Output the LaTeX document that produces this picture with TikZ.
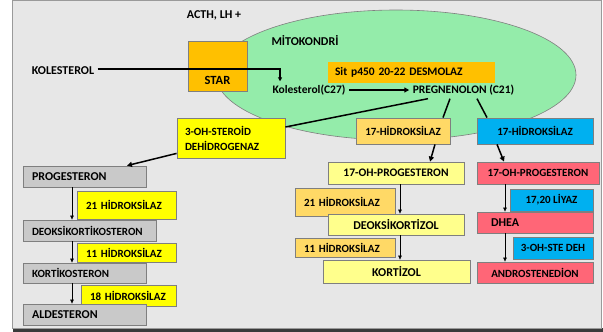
\documentclass[tikz,border=0pt]{standalone}
\usepackage{fontspec}
\setmainfont{Carlito}
\usetikzlibrary{arrows.meta}

\definecolor{panel}{HTML}{E7E7E7}
\definecolor{panelline}{HTML}{9A9A9A}
\definecolor{shadow}{HTML}{3A3A3A}
\definecolor{mito}{HTML}{94ECAA}
\definecolor{staror}{HTML}{FFC000}
\definecolor{enzyel}{HTML}{FFFF00}
\definecolor{enzor}{HTML}{FFD966}
\definecolor{enzbl}{HTML}{00B0F0}
\definecolor{pale}{HTML}{FFFF8C}
\definecolor{pink}{HTML}{FF6677}
\definecolor{stepgray}{HTML}{C9C9C9}
\definecolor{edge}{HTML}{7F7F7F}

\begin{document}
\begin{tikzpicture}[x=1pt, y=-1pt,
  bigtxt/.style={font=\fontsize{12}{13}\selectfont\bfseries},
  midtxt/.style={font=\fontsize{11.5}{13}\selectfont\bfseries},
  smalltxt/.style={font=\fontsize{11}{15}\selectfont\bfseries},
  box/.style={draw=edge, line width=0.8pt, inner sep=0pt},
  lbox/.style={box, align=left, inner xsep=#1},
  link/.style={line width=1.5pt},
  linkarr/.style={link, -{Triangle[length=5pt,width=5pt]}},
  chain/.style={line width=0.6pt, -{Triangle[length=4pt,width=3.5pt]}}]
  \useasboundingbox (0,0) rectangle (603,332);
  \fill[shadow] (13,328) rectangle (603,332);
  \draw[panelline, fill=panel, line width=0.8pt] (12,0.5) rectangle (601,328);
  \draw[edge, fill=mito, line width=0.6pt] (396,75) ellipse [x radius=180pt, y radius=65pt];

  \node[bigtxt] (acth) at (214,15) {ACTH, LH +};
  \node[bigtxt] (mitotxt) at (305,41) {MİTOKONDRİ};
  \node[bigtxt] (kol) at (63,71) {KOLESTEROL};
  \node[box, fill=staror, minimum width=59pt, minimum height=50pt] (star) at (217.5,66) {};
  \node[font=\fontsize{12.5}{13}\selectfont\bfseries] (startxt) at (217.5,80) {STAR};
  \node[midtxt, fill=staror, text width=153pt, align=left, inner xsep=7pt, inner ysep=0pt, minimum height=21pt] (desm) at (411.5,72.5) {Sit p450 20-22 DESMOLAZ};
  \node[midtxt] (kolc) at (309,90) {Kolesterol(C27)};
  \node[midtxt] (preg) at (463.5,90) {PREGNENOLON (C21)};

  \node[lbox=8pt, smalltxt, fill=enzyel, text width=92pt, minimum height=40pt] (hsd) at (231,138) {3-OH-STEROİD\\DEHİDROGENAZ};
  \node[box, smalltxt, fill=enzor, minimum width=94pt, minimum height=26pt] (hyda) at (403,131) {17-HİDROKSİLAZ};
  \node[box, smalltxt, fill=enzbl, minimum width=116pt, minimum height=26pt] (hydb) at (535,131) {17-HİDROKSİLAZ};

  \node[lbox=9pt, bigtxt, fill=stepgray, text width=105pt, minimum height=21pt] (prog) at (84.5,176.5) {PROGESTERON};
  \node[lbox=9pt, smalltxt, fill=enzyel, text width=81pt, minimum height=28pt] (hyd21) at (126.5,205) {21 HİDROKSİLAZ};
  \node[lbox=9pt, smalltxt, fill=stepgray, text width=115pt, minimum height=21pt] (deokos) at (89.5,230.5) {DEOKSİKORTİKOSTERON};
  \node[lbox=9pt, smalltxt, fill=enzyel, text width=81pt, minimum height=19pt] (hyd11) at (126.5,252.5) {11 HİDROKSİLAZ};
  \node[lbox=9pt, smalltxt, fill=stepgray, text width=105pt, minimum height=20pt] (kortk) at (84.5,273) {KORTİKOSTERON};
  \node[lbox=9pt, smalltxt, fill=enzyel, text width=77pt, minimum height=21pt] (hyd18) at (128.5,295.5) {18 HİDROKSİLAZ};
  \node[lbox=9pt, bigtxt, fill=stepgray, text width=105pt, minimum height=21pt] (aldo) at (84.5,314.5) {ALDESTERON};

  \node[box, midtxt, fill=pale, minimum width=136pt, minimum height=22pt] (ohp) at (396,173) {17-OH-PROGESTERON};
  \node[lbox=9pt, smalltxt, fill=enzor, text width=82pt, minimum height=28pt] (hydc) at (345,202) {21 HİDROKSİLAZ};
  \node[box, bigtxt, fill=pale, minimum width=136pt, minimum height=21pt] (deokz) at (396,224.5) {DEOKSİKORTİZOL};
  \node[lbox=9pt, smalltxt, fill=enzor, text width=82pt, minimum height=19pt] (hydd) at (345,247.5) {11 HİDROKSİLAZ};
  \node[box, bigtxt, fill=pale, minimum width=147pt, minimum height=23pt] (kortz) at (396.5,271.5) {KORTİZOL};

  \node[box, smalltxt, fill=pink, minimum width=122pt, minimum height=22pt] (ohpr) at (538,173) {17-OH-PROGESTERON};
  \node[box, smalltxt, fill=enzbl, minimum width=83pt, minimum height=22pt] (lyase) at (551.5,200) {17,20 LİYAZ};
  \node[lbox=14pt, bigtxt, fill=pink, text width=88pt, minimum height=21pt] (dhea) at (535,222.5) {DHEA};
  \node[box, smalltxt, fill=enzbl, minimum width=80pt, minimum height=22pt] (stedeh) at (553,248) {3-OH-STE DEH};
  \node[box, smalltxt, fill=pink, minimum width=116pt, minimum height=21pt] (andr) at (535,272.5) {ANDROSTENEDİON};

  \coordinate (lx) at (72,0);
  \coordinate (mx) at (400,0);
  \coordinate (rx) at (505,0);

  \draw[link, -{Triangle[length=4pt,width=4pt]}] ([yshift=2pt]kol.east) -| ([xshift=11pt]kolc.north west);
  \draw[linkarr] (kolc) -- (preg);
  \draw[link] ([xshift=-35.5pt]preg.south) -- ([yshift=11pt]hsd.east);
  \draw[link] ([xshift=-13.5pt]preg.south) -- ([xshift=40pt]hyda.north);
  \draw[link] ([xshift=13.5pt]preg.south) -- ([xshift=-48pt]hydb.north);
  \draw[linkarr] ([xshift=32pt]hyda.south) -- ([xshift=34pt]ohp.north);
  \draw[linkarr] ([xshift=-38pt]hydb.south) -- ([xshift=-34pt]ohpr.north);
  \draw[linkarr] ([yshift=5pt]hsd.south west) -- ([xshift=42.5pt]prog.north);

  \draw[chain] (prog.south -| lx) -- (deokos.north -| lx);
  \draw[chain] (deokos.south -| lx) -- (kortk.north -| lx);
  \draw[chain] (kortk.south -| lx) -- (aldo.north -| lx);
  \draw[chain] (ohp.south -| mx) -- (deokz.north -| mx);
  \draw[chain] (deokz.south -| mx) -- (kortz.north -| mx);
  \draw[chain] (ohpr.south -| rx) -- (dhea.north -| rx);
  \draw[chain] (dhea.south -| rx) -- (andr.north -| rx);
\end{tikzpicture}
\end{document}
